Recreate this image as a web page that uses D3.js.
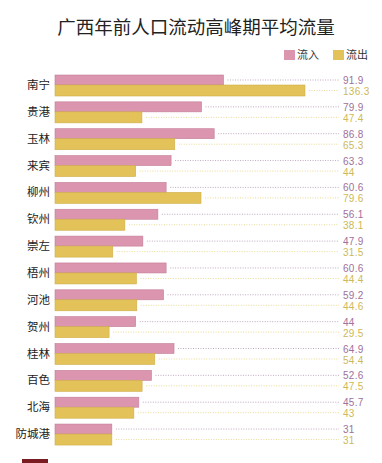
<!DOCTYPE html>
<html>
<head>
<meta charset="utf-8">
<script src="https://cdn.jsdelivr.net/npm/d3@7"></script>
<style>
	body { margin: 0; background: #fff; }
	text { font-family: "Noto Sans CJK SC", "Noto Sans", sans-serif; }
	.val { font-family: "Liberation Sans", "DejaVu Sans", sans-serif; font-size: 10px; letter-spacing: 0.3px; }
</style>
</head>
<body>
<div id="chart"></div>
<script>
var cities = ["南宁", "贵港", "玉林", "来宾", "柳州", "钦州", "崇左", "梧州", "河池", "贺州", "桂林", "百色", "北海", "防城港"];
var inflow = [91.9, 79.9, 86.8, 63.3, 60.6, 56.1, 47.9, 60.6, 59.2, 44, 64.9, 52.6, 45.7, 31];
var outflow = [136.3, 47.4, 65.3, 44, 79.6, 38.1, 31.5, 44.4, 44.6, 29.5, 54.4, 47.5, 43, 31];
var seriesNames = ["流入", "流出"];

var width = 382, height = 463;
var colors = { pink: "#dc95ae", yellow: "#e3c25a" };

var svg = d3.select("#chart")
	.append("svg")
	.attr("width", width)
	.attr("height", height)
	.style("background", "#fff");

svg.append("text")
	.attr("x", 196)
	.attr("y", 34)
	.attr("text-anchor", "middle")
	.style("font-size", "18.5px")
	.style("fill", "#222")
	.text("广西年前人口流动高峰期平均流量");

// legend
var legend = svg.append("g").attr("class", "legend");
[[284, colors.pink, seriesNames[0]], [333, colors.yellow, seriesNames[1]]].forEach(function(d) {
	legend.append("rect")
		.attr("x", d[0])
		.attr("y", 50)
		.attr("width", 11)
		.attr("height", 10)
		.style("fill", d[1]);
	legend.append("text")
		.attr("x", d[0] + 13)
		.attr("y", 59)
		.style("font-size", "11px")
		.style("fill", "#333")
		.text(d[2]);
});

var x = d3.scaleLinear().domain([0, 150]).range([55, 55 + 275.1]);
var y = d3.scaleBand().domain(cities).range([75, 75 + 26.85 * cities.length]).paddingInner(0).paddingOuter(0);

var rows = svg.selectAll("g.row")
	.data(cities)
	.enter()
	.append("g")
	.attr("class", "row")
	.attr("transform", function(d) { return "translate(0," + y(d) + ")"; });

rows.append("text")
	.attr("x", 50)
	.attr("y", 14)
	.attr("text-anchor", "end")
	.style("font-size", "11.5px")
	.style("fill", "#222")
	.text(function(d) { return d; });

var lineEnd = 339;
var specs = [
	{ vals: inflow, top: 0, h: 10, fill: colors.pink, stroke: "#c47d97", dot: "#bfa8c0", txt: "#a0709b", ty: 9 },
	{ vals: outflow, top: 10, h: 11, fill: colors.yellow, stroke: "#cfae48", dot: "#e8da95", txt: "#cdb957", ty: 20 }
];

specs.forEach(function(s) {
	rows.append("rect")
		.attr("x", x(0))
		.attr("y", s.top)
		.attr("width", function(d, i) { return x(s.vals[i]) - x(0); })
		.attr("height", s.h)
		.style("fill", s.fill)
		.style("stroke", s.stroke)
		.style("stroke-width", 0.6);
	rows.append("line")
		.attr("x1", function(d, i) { return x(s.vals[i]) + 4; })
		.attr("x2", lineEnd)
		.attr("y1", s.top + s.h / 2)
		.attr("y2", s.top + s.h / 2)
		.style("stroke", s.dot)
		.style("stroke-width", 1)
		.style("stroke-dasharray", "1,1.5");
	rows.append("text")
		.attr("class", "val")
		.attr("x", 343)
		.attr("y", s.ty)
		.style("fill", s.txt)
		.text(function(d, i) { return s.vals[i]; });
});

// logo stub at bottom
svg.append("rect")
	.attr("x", 22)
	.attr("y", 459)
	.attr("width", 26)
	.attr("height", 4)
	.style("fill", "#7a1b22");
</script>
</body>
</html>
